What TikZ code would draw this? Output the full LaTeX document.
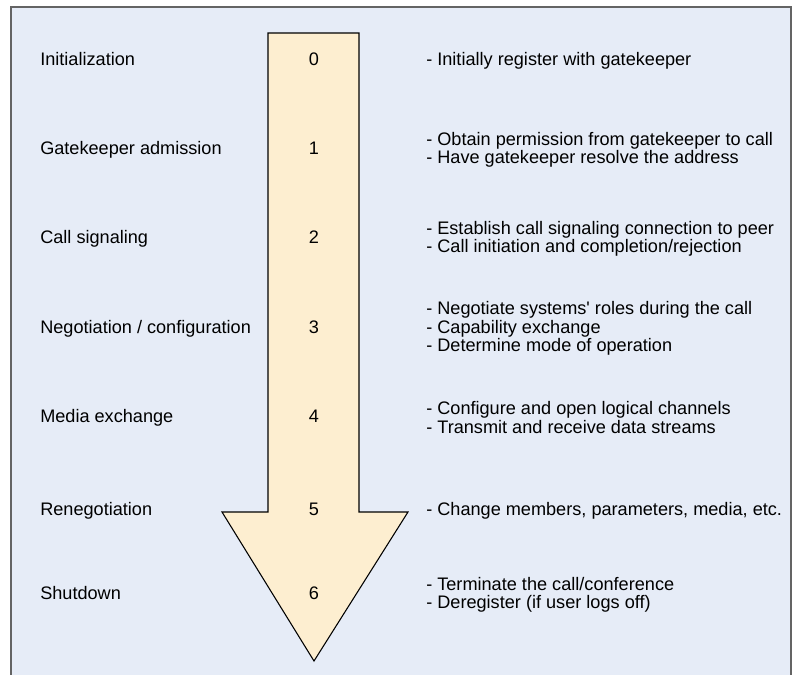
\documentclass[tikz,border=0pt]{standalone}
\usepackage{fontspec}
\setmainfont{Liberation Sans}[Ligatures=TeXOff]
\definecolor{bgblue}{RGB}{230,236,247}
\definecolor{arrowfill}{RGB}{253,238,208}
\definecolor{framegray}{RGB}{100,100,100}
\begin{document}
\begin{tikzpicture}[x=0.75pt,y=-0.75pt,
  txt/.style={inner sep=0pt, font=\fontsize{13.6}{13.75}\selectfont},
  lbl/.style={txt, anchor=base west},
  num/.style={txt, anchor=base},
  desc/.style={txt, anchor=west, align=left}]
\useasboundingbox (0,0) rectangle (797,675);
\fill[bgblue] (11,7) rectangle (791,675);
\draw[framegray, line width=0.9pt] (11,675) -- (11,7) -- (791,7) -- (791,675);
\draw[black, fill=arrowfill, line width=0.8pt, line join=miter]
  (268,33) -- (359,33) -- (359,512) -- (408,512) -- (314,661) -- (222,512) -- (268,512) -- cycle;
% labels
\node[lbl] (l0) at (40,65) {Initialization};
\node[lbl] (l1) at (40,154) {Gatekeeper admission};
\node[lbl] (l2) at (40,243) {Call signaling};
\node[lbl] (l3) at (40,333) {Negotiation / configuration};
\node[lbl] (l4) at (40,422) {Media exchange};
\node[lbl] (l5) at (40,515) {Renegotiation};
\node[lbl] (l6) at (40,599) {Shutdown};
% numbers
\node[num] (n0) at (314,65) {0};
\node[num] (n1) at (314,154) {1};
\node[num] (n2) at (314,243) {2};
\node[num] (n3) at (314,333) {3};
\node[num] (n4) at (314,422) {4};
\node[num] (n5) at (314,515) {5};
\node[num] (n6) at (314,599) {6};
% descriptions
\node[desc] (d0) at (426,60.5) {- Initially register with gatekeeper};
\node[desc] (d1) at (426,149.5) {- Obtain permission from gatekeeper to call\\- Have gatekeeper resolve the address};
\node[desc] (d2) at (426,238.5) {- Establish call signaling connection to peer\\- Call initiation and completion/rejection};
\node[desc] (d3) at (426,328.5) {- Negotiate systems' roles during the call\\- Capability exchange\\- Determine mode of operation};
\node[desc] (d4) at (426,417.5) {- Configure and open logical channels\\- Transmit and receive data streams};
\node[desc] (d5) at (426,510.5) {- Change members, parameters, media, etc.};
\node[desc] (d6) at (426,594.5) {- Terminate the call/conference\\- Deregister (if user logs off)};
\end{tikzpicture}
\end{document}
